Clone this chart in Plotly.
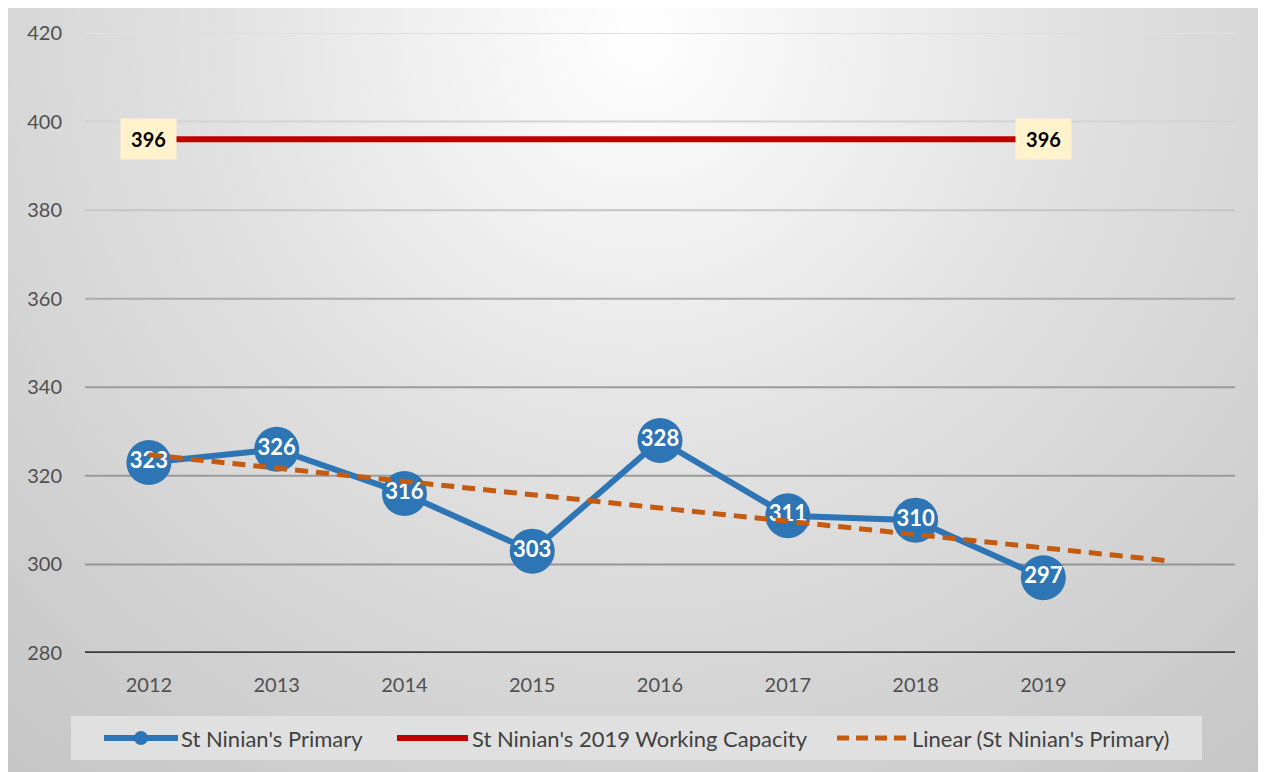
import base64
import numpy as np
import plotly.graph_objects as go

# ---------------- data ----------------
years = [2012, 2013, 2014, 2015, 2016, 2017, 2018, 2019]
roll = [323, 326, 316, 303, 328, 311, 310, 297]
capacity = [396, 396, 396, 396, 396, 396, 396, 396]
trend_years = [2012, 2013, 2014, 2015, 2016, 2017, 2018, 2019, 2020]
y_ticks = [280, 300, 320, 340, 360, 380, 400, 420]
grid_colors = ["#3A3A3A", "#959595", "#9A9A9A", "#9C9C9C", "#ABABAB", "#C6C6C6", "#D4D4D4", "#DFDFDF"]

# linear trendline (Excel "Linear" trend, forecast forward one period)
coef = np.polyfit(np.arange(len(years)), roll, 1)
trend = list(np.polyval(coef, np.arange(len(trend_years))))

# ---------------- layout geometry ----------------
OFF = 8                     # page body margin
W, H = 1266 - OFF, 772 - OFF
ML, MR, MT, MB = 85 - OFF, 31, 33 - OFF, 119
PW, PH = W - ML - MR, H - MT - MB


def px(x):
    # page pixel -> paper coordinate
    return (x - OFF - ML) / PW


def py(y):
    return (H - MB - (y - OFF)) / PH


FONT = "Lato"

# radial gradient background as an svg image
svg = '''<svg xmlns="http://www.w3.org/2000/svg" width="1258" height="767" viewBox="0 0 1258 767" preserveAspectRatio="none">
<defs><radialGradient id="g" gradientUnits="userSpaceOnUse" cx="633" cy="30" r="960">
<stop offset="0" stop-color="#FFFFFF"/><stop offset="0.45" stop-color="#E1E1E1"/><stop offset="1" stop-color="#C6C6C6"/>
</radialGradient></defs><rect width="1258" height="767" fill="url(#g)"/></svg>'''
svg_uri = "data:image/svg+xml;base64," + base64.b64encode(svg.encode()).decode()

fig = go.Figure()

fig.add_trace(go.Scatter(
    x=years, y=capacity, mode="lines", name="St Ninian's 2019 Working Capacity",
    line=dict(color="#C00000", width=6), hoverinfo="skip", showlegend=False,
))
fig.add_trace(go.Scatter(
    x=years, y=roll, mode="lines+markers+text", name="St Ninian's Primary",
    line=dict(color="#2E75B6", width=6),
    marker=dict(size=45, color="#2E75B6"),
    text=[str(v) for v in roll], textposition="middle center",
    textfont=dict(family=FONT, size=22, color="white", weight="bold"),
    showlegend=False,
))
fig.add_trace(go.Scatter(
    x=trend_years, y=trend, mode="lines", name="Linear (St Ninian's Primary)",
    line=dict(color="#C55A11", width=5, dash="13px,8px"), showlegend=False,
))

shapes = []
# gridlines (darkening toward bottom)
for v, c in zip(y_ticks, grid_colors):
    shapes.append(dict(type="line", xref="paper", yref="y", x0=0, x1=1, y0=v, y1=v,
                       line=dict(color=c, width=3.5 if v == y_ticks[0] else 2), layer="below"))

# capacity value labels
annotations = []
for i in (0, len(years) - 1):
    annotations.append(dict(x=years[i], y=capacity[i], xref="x", yref="y", text="<b>396</b>",
                            showarrow=False, bgcolor="#FFF2CC", width=53, height=38,
                            font=dict(family=FONT, size=20, color="#000000")))

# custom legend
LY = 738
shapes.append(dict(type="rect", xref="paper", yref="paper", x0=px(71), x1=px(1202),
                   y0=py(716), y1=py(760), fillcolor="#E0E0E0", line=dict(width=0), layer="below"))
shapes.append(dict(type="line", xref="paper", yref="paper", x0=px(104), x1=px(178), y0=py(LY), y1=py(LY),
                   line=dict(color="#2E75B6", width=6)))
shapes.append(dict(type="circle", xref="paper", yref="paper", x0=px(134), x1=px(148), y0=py(745), y1=py(731),
                   fillcolor="#2E75B6", line=dict(width=0)))
shapes.append(dict(type="line", xref="paper", yref="paper", x0=px(397), x1=px(468), y0=py(LY), y1=py(LY),
                   line=dict(color="#C00000", width=6)))
shapes.append(dict(type="line", xref="paper", yref="paper", x0=px(837), x1=px(908), y0=py(LY), y1=py(LY),
                   line=dict(color="#C55A11", width=5, dash="12px,7px")))
for xx, t in ((179, "St Ninian's Primary"), (470, "St Ninian's 2019 Working Capacity"),
              (910, "Linear (St Ninian's Primary)")):
    annotations.append(dict(x=px(xx), y=py(LY), xref="paper", yref="paper", text=t, showarrow=False,
                            xanchor="left", yanchor="middle",
                            font=dict(family=FONT, size=22, color="#404040")))

fig.update_layout(
    width=W, height=H,
    margin=dict(l=ML, r=MR, t=MT, b=MB),
    paper_bgcolor="white", plot_bgcolor="rgba(0,0,0,0)",
    font=dict(family=FONT, color="#595959"),
    showlegend=False,
    shapes=shapes, annotations=annotations,
    images=[dict(source=svg_uri, xref="paper", yref="paper", x=px(8), y=py(8),
                 sizex=(1265 - 8) / PW, sizey=(772 - 8) / PH, sizing="stretch",
                 xanchor="left", yanchor="top", layer="below")],
    xaxis=dict(range=[2011.5, 2020.5], tickvals=years, ticktext=[str(y) for y in years],
               showgrid=False, zeroline=False, showline=False,
               tickfont=dict(family=FONT, size=20, color="#505050"), ticklabelstandoff=18),
    yaxis=dict(range=[280, 420], tickvals=y_ticks, showgrid=False, zeroline=False, showline=False,
               tickfont=dict(family=FONT, size=20, color="#505050"), ticklabelstandoff=22),
)

fig.write_html("out.html")
